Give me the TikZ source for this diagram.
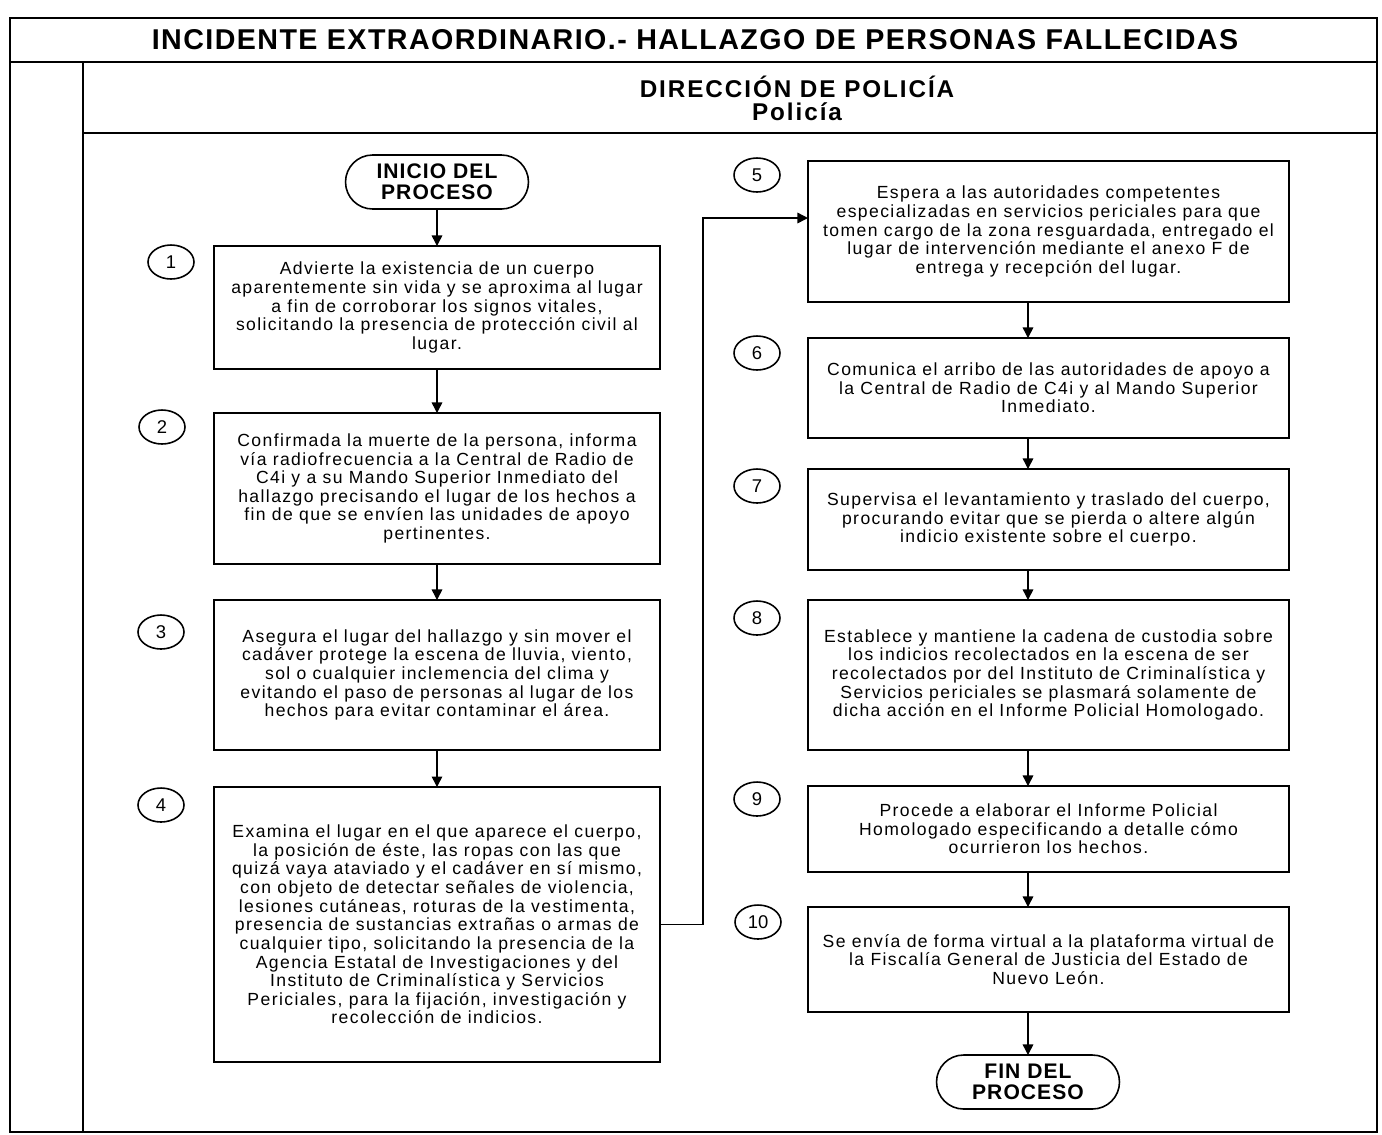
\documentclass[tikz,border=0pt]{standalone}
\usepackage{fontspec}
\setmainfont{Liberation Sans}
\newfontfamily\boxfont[LetterSpace=8]{Liberation Sans}
\newfontfamily\headfont[LetterSpace=5]{Liberation Sans}
\newfontfamily\areafont[LetterSpace=8]{Liberation Sans}
\usetikzlibrary{arrows.meta,shapes.geometric,shapes.misc}
\begin{document}
\begin{tikzpicture}[x=0.02cm, y=-0.02cm,
    box/.style={draw, line width=0.9pt, align=center, inner sep=0, outer sep=0,
        font=\boxfont\fontsize{10}{10.6}\selectfont},
    num/.style={draw, ellipse, line width=0.9pt, minimum width=0.92cm, minimum height=0.68cm,
        inner sep=0, font=\fontsize{10.5}{11}\selectfont},
    term/.style={draw, rounded rectangle, line width=0.9pt, minimum width=3.66cm,
        minimum height=1.08cm, inner sep=0, outer sep=0, align=center,
        font=\headfont\bfseries\fontsize{12}{12}\selectfont},
    area/.style={inner sep=0, font=\areafont\bfseries\fontsize{13.8}{14}\selectfont},
    arr/.style={-{Triangle[length=6pt,width=6pt]}, line width=0.8pt}]
        \useasboundingbox (0,0) rectangle (1382,1134);

        % marco
        \draw[line width=1pt] (10,18) rectangle (1377,1132);
        \draw[line width=1pt] (10,62) -- (1377,62);
        \draw[line width=1pt] (83,62) -- (83,1132);
        \draw[line width=1pt] (83,133) -- (1377,133);
        \node[font=\headfont\bfseries\fontsize{16.3}{17}\selectfont] (titulo) at (695,40)
            {INCIDENTE EXTRAORDINARIO.- HALLAZGO DE PERSONAS FALLECIDAS};
        \node[area] (direccion) at (797,87) {DIRECCIÓN DE POLICÍA};
        \node[area] (puesto) at (797,112) {Policía};

        % columna izquierda
        \node[term] (ini) at (437,182) {INICIO DEL\\PROCESO};
        \node[box, minimum width=8.92cm, minimum height=2.46cm] (b1) at (437,307.5)
            {Advierte la existencia de un cuerpo\\aparentemente sin vida y se aproxima al lugar\\a fin de corroborar los signos vitales,\\solicitando la presencia de protección civil al\\lugar.};
        \node[box, minimum width=8.92cm, minimum height=3.02cm] (b2) at (437,488.5)
            {Confirmada la muerte de la persona, informa\\vía radiofrecuencia a la Central de Radio de\\C4i y a su Mando Superior Inmediato del\\hallazgo precisando el lugar de los hechos a\\fin de que se envíen las unidades de apoyo\\pertinentes.};
        \node[box, minimum width=8.92cm, minimum height=3.0cm] (b3) at (437,675)
            {Asegura el lugar del hallazgo y sin mover el\\cadáver protege la escena de lluvia, viento,\\sol o cualquier inclemencia del clima y\\evitando el paso de personas al lugar de los\\hechos para evitar contaminar el área.};
        \node[box, minimum width=8.92cm, minimum height=5.5cm] (b4) at (437,924.5)
            {Examina el lugar en el que aparece el cuerpo,\\la posición de éste, las ropas con las que\\quizá vaya ataviado y el cadáver en sí mismo,\\con objeto de detectar señales de violencia,\\lesiones cutáneas, roturas de la vestimenta,\\presencia de sustancias extrañas o armas de\\cualquier tipo, solicitando la presencia de la\\Agencia Estatal de Investigaciones y del\\Instituto de Criminalística y Servicios\\Periciales, para la fijación, investigación y\\recolección de indicios.};
        \node[num] (n1) at (171,262) {1};
        \node[num] (n2) at (162,427) {2};
        \node[num] (n3) at (161,632) {3};
        \node[num] (n4) at (161,805) {4};

        % columna derecha
        \node[box, minimum width=9.62cm, minimum height=2.82cm] (b5) at (1048.5,231.5)
            {Espera a las autoridades competentes\\especializadas en servicios periciales para que\\tomen cargo de la zona resguardada, entregado el\\lugar de intervención mediante el anexo F de\\entrega y recepción del lugar.};
        \node[box, minimum width=9.62cm, minimum height=2.0cm] (b6) at (1048.5,388)
            {Comunica el arribo de las autoridades de apoyo a\\la Central de Radio de C4i y al Mando Superior\\Inmediato.};
        \node[box, minimum width=9.62cm, minimum height=2.02cm] (b7) at (1048.5,519.5)
            {Supervisa el levantamiento y traslado del cuerpo,\\procurando evitar que se pierda o altere algún\\indicio existente sobre el cuerpo.};
        \node[box, minimum width=9.62cm, minimum height=3.0cm] (b8) at (1048.5,675)
            {Establece y mantiene la cadena de custodia sobre\\los indicios recolectados en la escena de ser\\recolectados por del Instituto de Criminalística y\\Servicios periciales se plasmará solamente de\\dicha acción en el Informe Policial Homologado.};
        \node[box, minimum width=9.62cm, minimum height=1.72cm] (b9) at (1048.5,829)
            {Procede a elaborar el Informe Policial\\Homologado especificando a detalle cómo\\ocurrieron los hechos.};
        \node[box, minimum width=9.62cm, minimum height=2.1cm] (b10) at (1048.5,959.5)
            {Se envía de forma virtual a la plataforma virtual de\\la Fiscalía General de Justicia del Estado de\\Nuevo León.};
        \node[term] (fin) at (1028,1082) {FIN DEL\\PROCESO};
        \node[num] (n5) at (757,175) {5};
        \node[num] (n6) at (757,353) {6};
        \node[num] (n7) at (757,486) {7};
        \node[num] (n8) at (757,618) {8};
        \node[num] (n9) at (757,799) {9};
        \node[num] (n10) at (758,922) {10};
        \coordinate (in5) at (808,218);

        % flechas
        \draw[arr] (ini.south) -- (b1.north);
        \draw[arr] (b1.south) -- (b2.north);
        \draw[arr] (b2.south) -- (b3.north);
        \draw[arr] (b3.south) -- (b4.north);
        \draw[arr] (b4.east) -- ++(43,0) |- (in5);
        \draw[arr] (b5.south -| fin) -- (b6.north -| fin);
        \draw[arr] (b6.south -| fin) -- (b7.north -| fin);
        \draw[arr] (b7.south -| fin) -- (b8.north -| fin);
        \draw[arr] (b8.south -| fin) -- (b9.north -| fin);
        \draw[arr] (b9.south -| fin) -- (b10.north -| fin);
        \draw[arr] (b10.south -| fin) -- (fin.north);
    \end{tikzpicture}
\end{document}
